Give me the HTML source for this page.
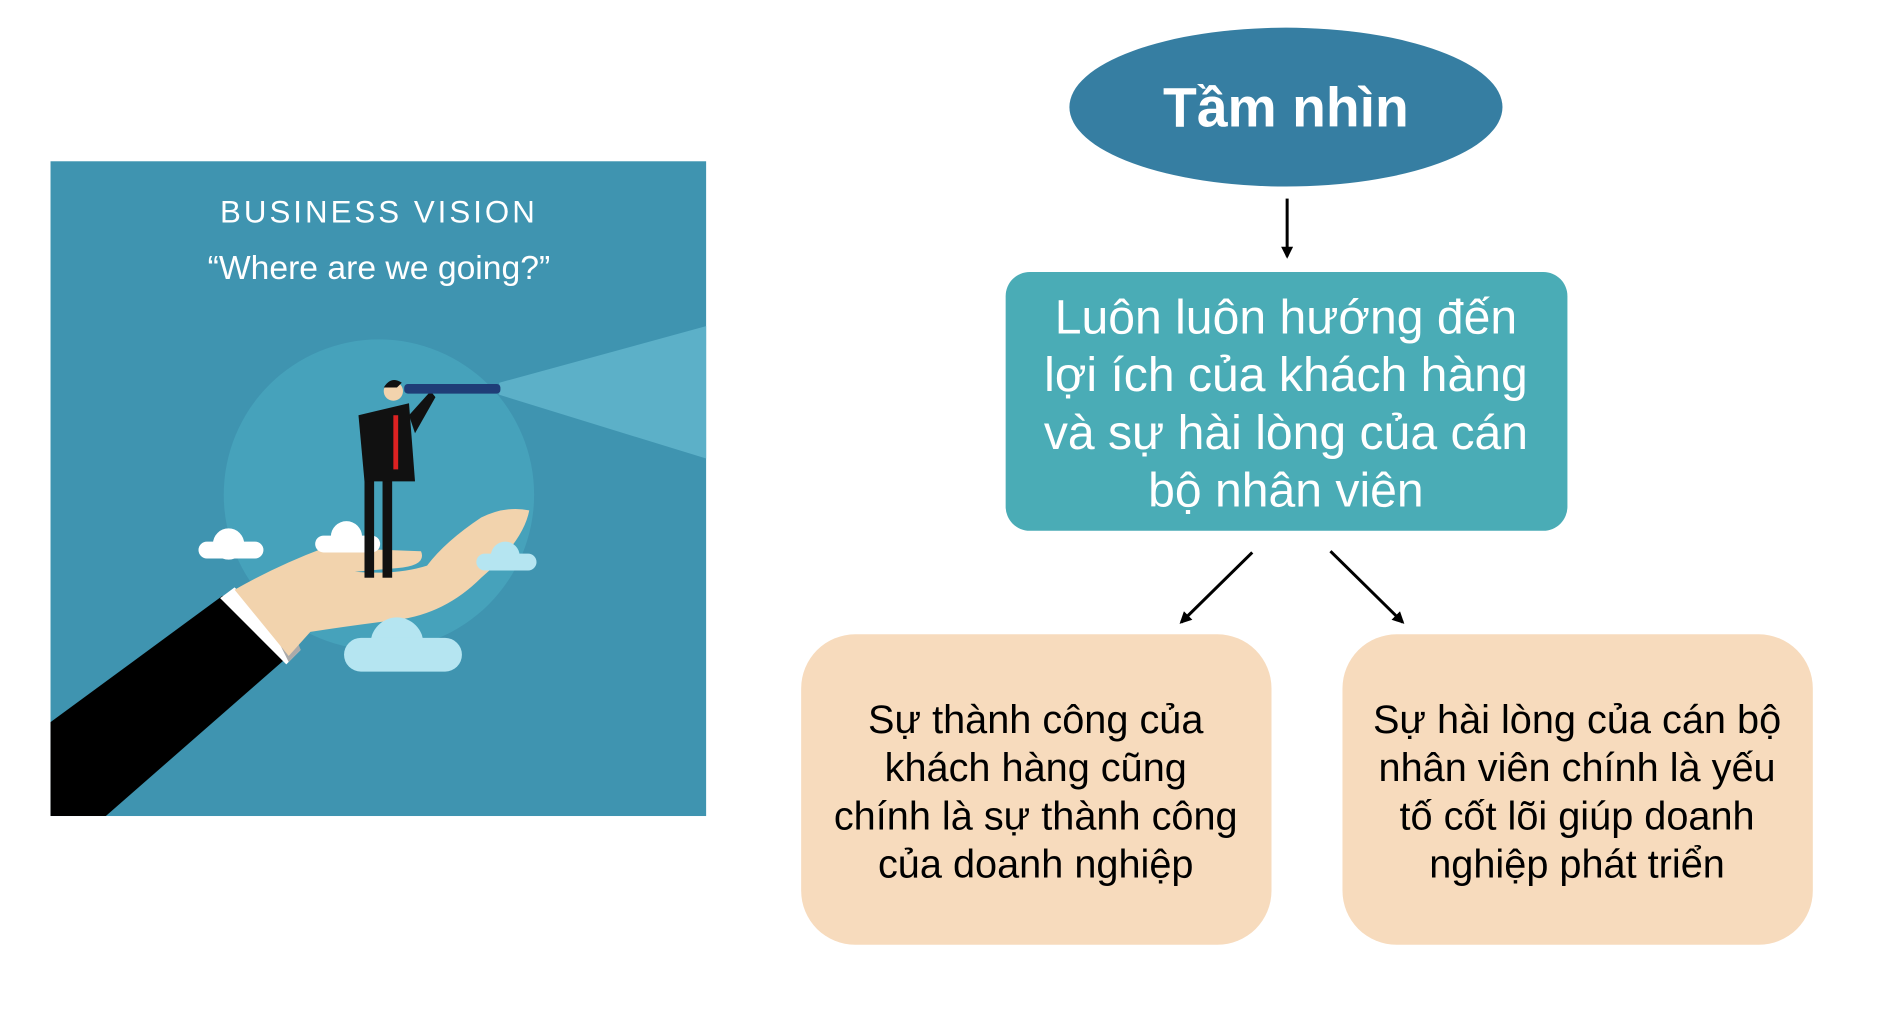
<!DOCTYPE html>
<html><head><meta charset="utf-8"><style>
html,body{margin:0;padding:0;background:#fff;}
svg{display:block;}
text{font-family:"Liberation Sans","DejaVu Sans",sans-serif;}
</style></head><body>
<svg width="1885" height="1011" viewBox="0 0 1567 840" preserveAspectRatio="none" xmlns="http://www.w3.org/2000/svg">
<defs>
<marker id="ah" markerWidth="10" markerHeight="10" refX="8" refY="5" orient="auto" markerUnits="userSpaceOnUse">
<path d="M0,0 L10,5 L0,10 z" fill="#000"/></marker>
</defs>
<rect x="42" y="134" width="545" height="544" fill="#3f94b0"/>
<circle cx="315" cy="411" r="129" fill="#46a2bb"/>
<polygon points="415,318 587,271 587,381 415,328" fill="#5cb0c8"/>
<text x="315" y="185" text-anchor="middle" fill="#fff" font-size="26" letter-spacing="2.5">BUSINESS VISION</text>
<text x="315" y="232" text-anchor="middle" fill="#fff" font-size="28">“Where are we going?”</text>
<polygon points="42,600 185,495 240,545 88,678 42,678" fill="#000"/>
<polygon points="183,497 195,488 250,540 238,552" fill="#fff"/>
<polygon points="226,522 238,510 250,540 240,550" fill="#aaa"/>
<path d="M195,490 Q230,470 270,455 L350,458 Q355,470 330,472 L295,475 Q330,478 355,470 Q370,450 400,430 Q420,420 440,424 Q435,450 400,480 Q370,510 330,515 Q290,520 258,525 L240,545 Z" fill="#f2d3ad"/>
<g fill="#fff"><circle cx="190" cy="452" r="13"/><rect x="165" y="450" width="54" height="14" rx="7"/>
<circle cx="288" cy="446" r="13"/><rect x="262" y="445" width="54" height="14" rx="7"/></g>
<g fill="#b5e5f1"><circle cx="420" cy="462" r="12"/><rect x="396" y="460" width="50" height="14" rx="7"/>
<circle cx="330" cy="535" r="22"/><rect x="286" y="530" width="98" height="28" rx="14"/></g>
<rect x="303" y="395" width="8" height="85" fill="#111"/><rect x="318" y="395" width="8" height="85" fill="#111"/>
<polygon points="298,345 340,335 345,400 303,400" fill="#111"/>
<polygon points="340,345 358,325 362,330 345,360" fill="#111"/>
<rect x="327" y="345" width="4" height="45" fill="#d22"/>
<circle cx="327" cy="325" r="8" fill="#f2d3ad"/><path d="M319,322 Q325,312 334,318 L330,322 Z" fill="#111"/>
<rect x="336" y="319" width="80" height="8" rx="3" fill="#1f3d77"/>
<ellipse cx="1069" cy="89" rx="180" ry="66" fill="#367ea2"/>
<text x="1069" y="105" text-anchor="middle" fill="#fff" font-size="46" font-weight="bold">Tầm nhìn</text>
<line x1="1070" y1="165" x2="1070" y2="213" stroke="#000" stroke-width="2.5" marker-end="url(#ah)"/>
<rect x="836" y="226" width="467" height="215" rx="20" fill="#4aacb6"/>
<g fill="#fff" font-size="40" text-anchor="middle">
<text x="1069" y="277">Luôn luôn hướng đến</text>
<text x="1069" y="325">lợi ích của khách hàng</text>
<text x="1069" y="373">và sự hài lòng của cán</text>
<text x="1069" y="421">bộ nhân viên</text></g>
<line x1="1041" y1="459" x2="982" y2="517" stroke="#000" stroke-width="2.5" marker-end="url(#ah)"/>
<line x1="1106" y1="458" x2="1166" y2="517" stroke="#000" stroke-width="2.5" marker-end="url(#ah)"/>
<rect x="666" y="527" width="391" height="258" rx="45" fill="#f7dbbd"/>
<rect x="1116" y="527" width="391" height="258" rx="45" fill="#f7dbbd"/>
<g fill="#000" font-size="33" text-anchor="middle">
<text x="861" y="609">Sự thành công của</text>
<text x="861" y="649">khách hàng cũng</text>
<text x="861" y="689">chính là sự thành công</text>
<text x="861" y="729">của doanh nghiệp</text>
<text x="1311" y="609">Sự hài lòng của cán bộ</text>
<text x="1311" y="649">nhân viên chính là yếu</text>
<text x="1311" y="689">tố cốt lõi giúp doanh</text>
<text x="1311" y="729">nghiệp phát triển</text></g>
</svg>
</body></html>
